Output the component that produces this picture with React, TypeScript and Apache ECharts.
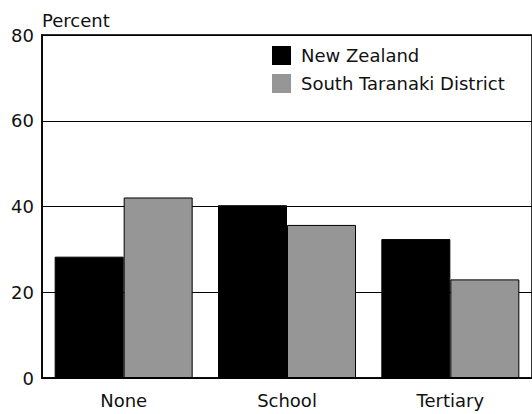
import React, { useEffect, useRef } from "react";
import * as echarts from "echarts";

const categories = ["None", "School", "Tertiary"];
const seriesNames = ["New Zealand", "South Taranaki District"];
const newZealand = [28.3, 40.3, 32.4];
const southTaranaki = [42.1, 35.7, 23.0];
const yTicks = { min: 0, max: 80, interval: 20 };

const FONT = "DejaVu Sans";

export default function App() {
  const ref = useRef<HTMLDivElement>(null);
  useEffect(() => {
    if (!ref.current) return;
    const chart = echarts.init(ref.current, null, { renderer: "svg" });
    chart.setOption({
      animation: false,
      backgroundColor: "#fff",
      grid: {
        left: 42,
        right: -2,
        top: 35,
        bottom: 36,
        containLabel: false,
        show: true,
        borderColor: "#333",
        borderWidth: 2,
      },
      legend: {
        orient: "vertical",
        left: 267,
        top: 41,
        itemWidth: 19,
        itemHeight: 19,
        itemGap: 9,
        icon: "rect",
        data: seriesNames,
        itemStyle: { borderWidth: 0 },
        textStyle: { fontFamily: FONT, fontSize: 18, color: "#111", padding: [0, 0, 0, 5] },
      },
      xAxis: {
        type: "category",
        data: categories,
        axisLine: { show: true, lineStyle: { color: "#000", width: 1.5 } },
        axisTick: { show: false },
        axisLabel: { color: "#111", fontFamily: FONT, fontSize: 18, margin: 13 },
      },
      yAxis: {
        type: "value",
        min: yTicks.min,
        max: yTicks.max,
        interval: yTicks.interval,
        name: "Percent",
        nameLocation: "end",
        nameGap: 6,
        nameTextStyle: {
          color: "#111",
          fontFamily: FONT,
          fontSize: 18,
          align: "left",
          verticalAlign: "bottom",
        },
        axisLine: { show: true, lineStyle: { color: "#000", width: 1.5 } },
        axisTick: { show: false },
        splitLine: { show: true, lineStyle: { color: "#000", width: 1.2 } },
        axisLabel: { color: "#111", fontFamily: FONT, fontSize: 18, margin: 8 },
      },
      series: [
        {
          name: seriesNames[0],
          type: "bar",
          data: newZealand,
          barWidth: 69,
          barGap: "0%",
          itemStyle: { color: "#000000", borderColor: "#000", borderWidth: 1 },
        },
        {
          name: seriesNames[1],
          type: "bar",
          data: southTaranaki,
          barWidth: 69,
          barGap: "0%",
          itemStyle: { color: "#969696", borderColor: "#000", borderWidth: 1 },
        },
      ],
    });
    return () => chart.dispose();
  }, []);
  return (
    <div
      ref={ref}
      style={{ position: "absolute", left: 0, top: 0, width: 532, height: 414 }}
    />
  );
}
